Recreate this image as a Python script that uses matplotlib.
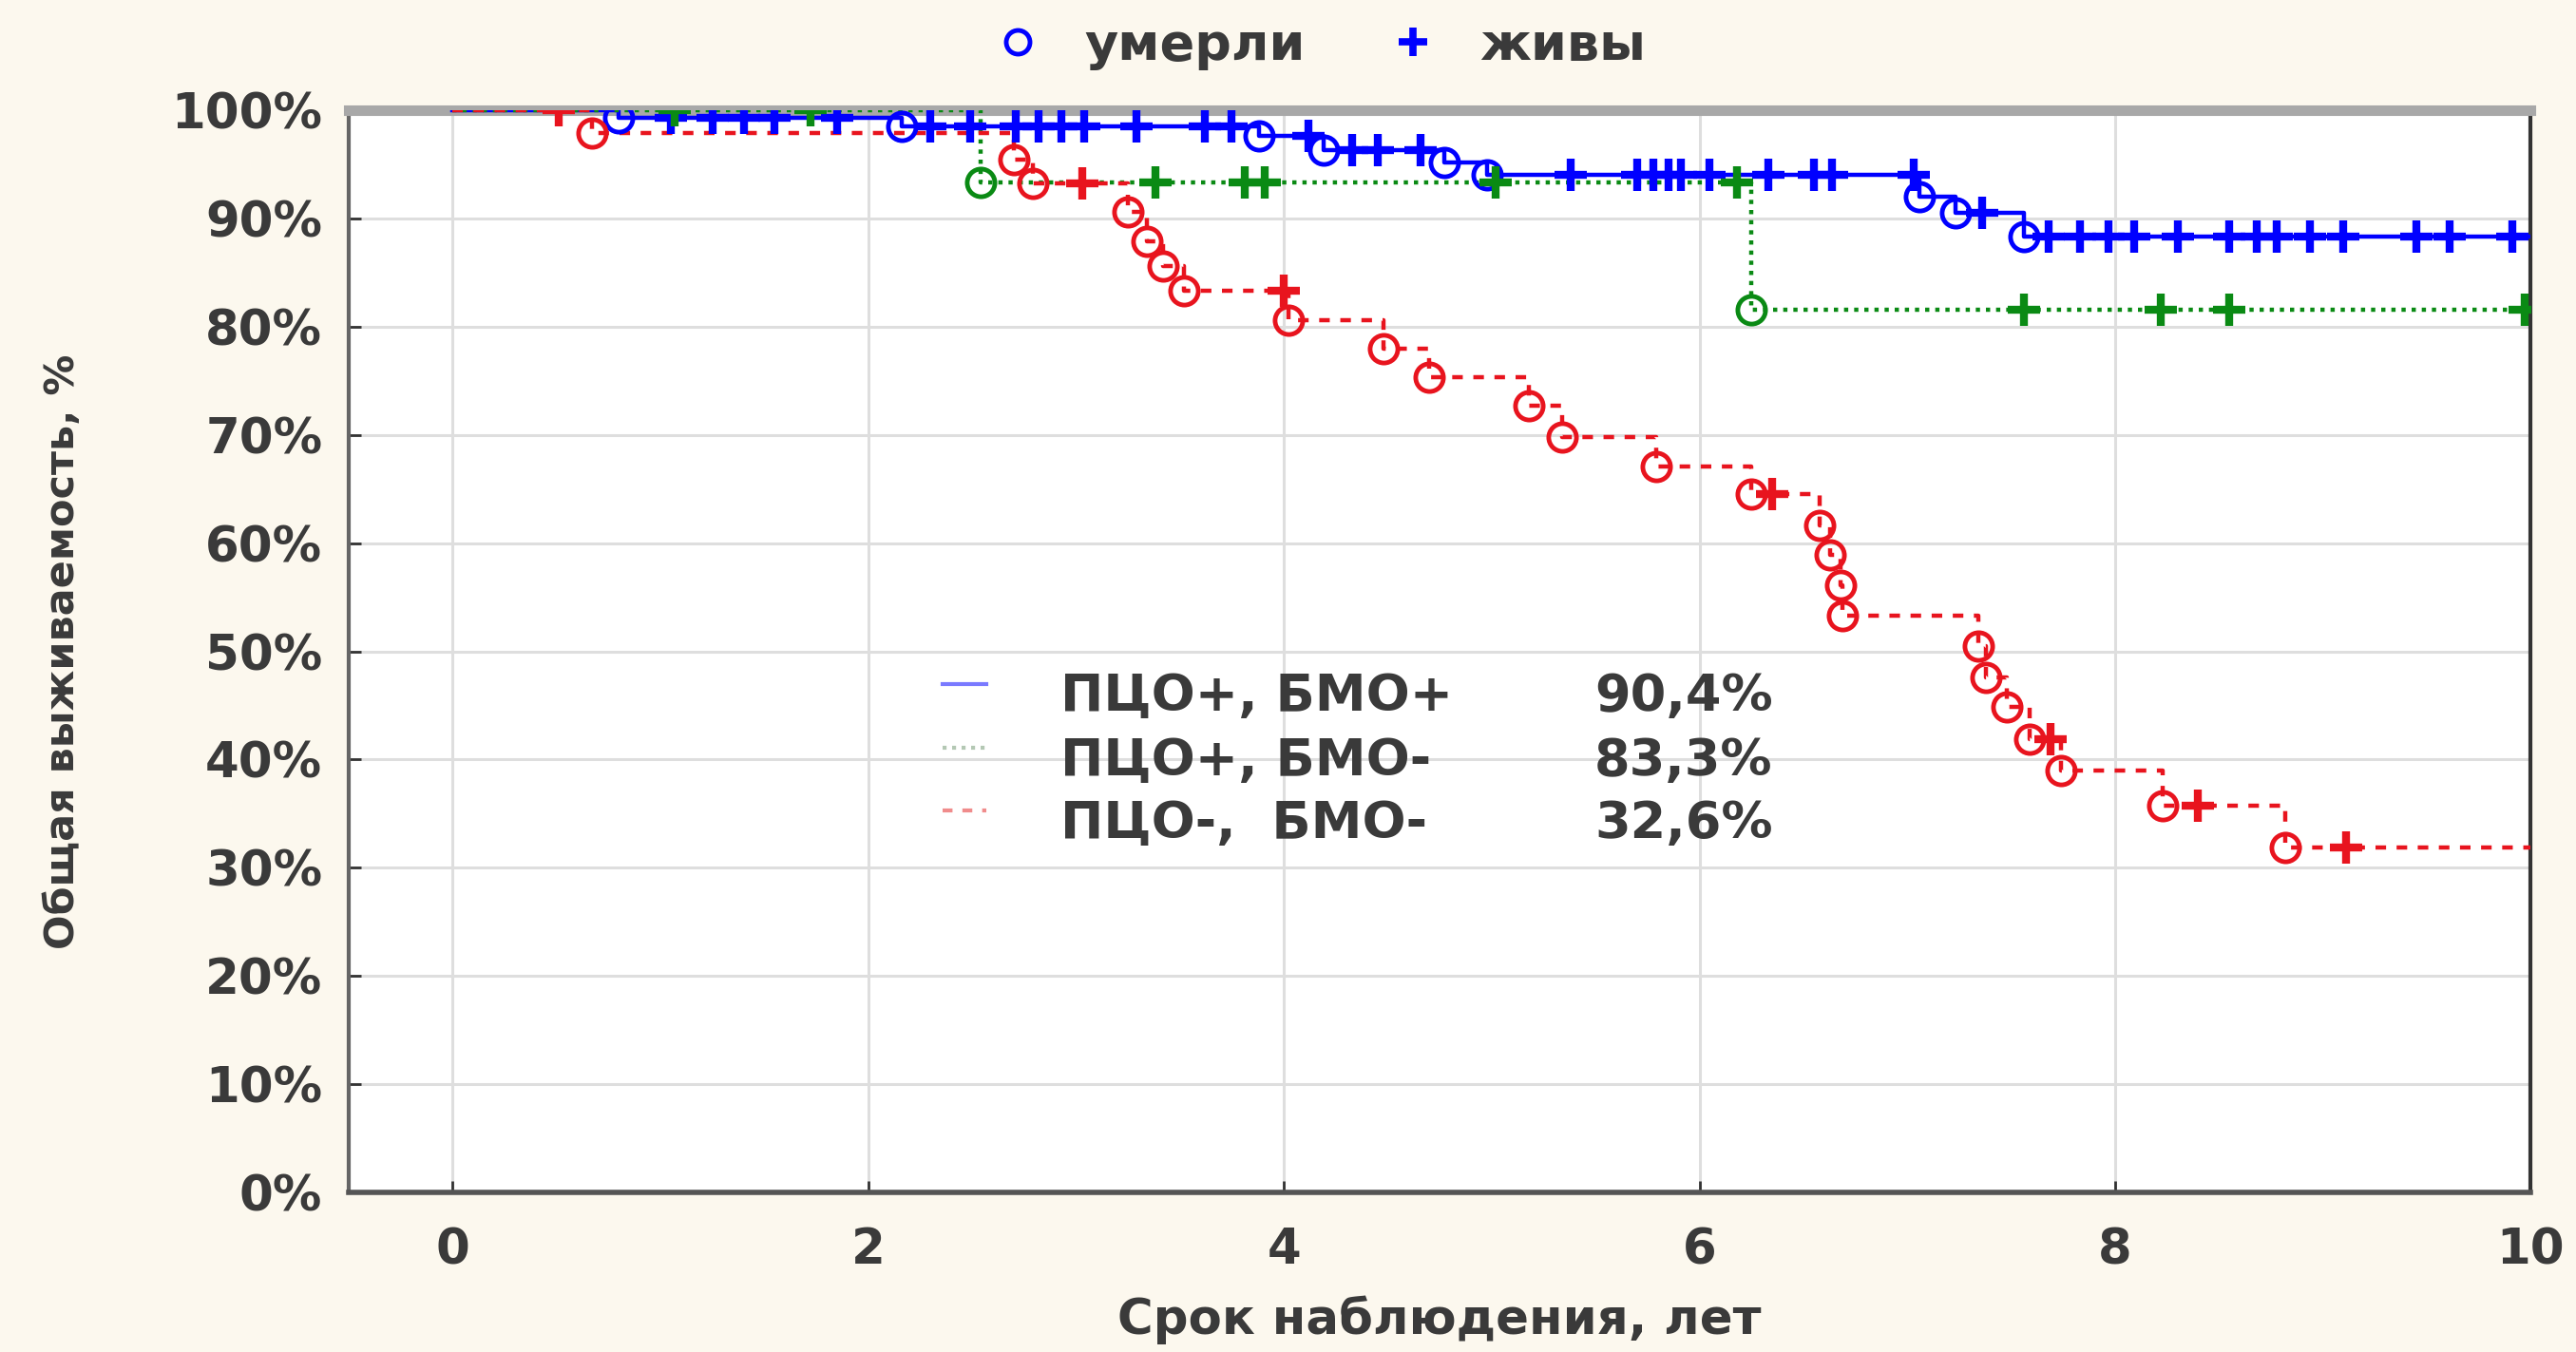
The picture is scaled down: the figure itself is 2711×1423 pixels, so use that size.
import numpy as np
import matplotlib
matplotlib.use("Agg")
import matplotlib.pyplot as plt
from matplotlib.lines import Line2D

plt.rcParams["font.family"] = ["DejaVu Sans"]
plt.rcParams["font.weight"] = "bold"
plt.rcParams["axes.labelweight"] = "bold"

# Kaplan-Meier curves: death times (years), survival after each death (%),
# and censored times (patients alive)
blue_death_t = [0.80, 2.16, 3.88, 4.19, 4.77, 4.98, 7.06, 7.23, 7.56]
blue_death_s = [99.3, 98.5, 97.6, 96.3, 95.2, 94.0, 92.0, 90.5, 88.3]
blue_cens_t = [1.05, 1.25, 1.40, 1.55, 1.85, 2.30, 2.49, 2.71, 2.82, 2.93, 3.04, 3.29,
               3.62, 3.75, 4.12, 4.33, 4.45, 4.66, 5.38, 5.70, 5.78, 5.85, 5.91, 6.05,
               6.33, 6.55, 6.64, 7.03, 7.36, 7.68, 7.83, 7.97, 8.09, 8.30, 8.55, 8.68,
               8.78, 8.94, 9.10, 9.45, 9.61, 9.91]

green_death_t = [2.54, 6.25]
green_death_s = [93.3, 81.6]
green_cens_t = [1.07, 1.72, 3.38, 3.81, 3.91, 5.02, 6.18, 7.56, 8.22, 8.55, 9.97]

red_death_t = [0.67, 2.70, 2.79, 3.25, 3.34, 3.42, 3.52, 4.02, 4.48, 4.70, 5.18, 5.34,
               5.79, 6.25, 6.58, 6.63, 6.68, 6.69, 7.34, 7.38, 7.48, 7.59, 7.74, 8.23, 8.82]
red_death_s = [97.9, 95.4, 93.2, 90.6, 87.9, 85.6, 83.3, 80.6, 78.0, 75.3, 72.7, 69.8,
               67.1, 64.5, 61.6, 58.9, 56.1, 53.3, 50.5, 47.6, 44.9, 41.9, 39.0, 35.7, 31.9]
red_cens_t = [0.51, 3.03, 4.00, 6.35, 7.69, 8.40, 9.11]

groups = ["ПЦО+, БМО+", "ПЦО+, БМО-", "ПЦО-,  БМО-"]
final_pct = ["90,4%", "83,3%", "32,6%"]
end_time = 10.0

x_ticks = [0, 2, 4, 6, 8, 10]
y_ticks = list(range(0, 101, 10))

text_col = "#3a3a3a"


def surv_at(t, dt, ds):
    idx = np.searchsorted(dt, t, side="left")
    ds = np.asarray(ds)
    return np.where(idx == 0, 100.0, ds[np.maximum(idx - 1, 0)])


fig = plt.figure(figsize=(27.11, 14.23), dpi=100, facecolor="#fcf8ee")
ax = fig.add_axes([0.1354, 0.118, 0.847, 0.8005])
ax.set_facecolor("white")

curves = [
    (blue_death_t, blue_death_s, blue_cens_t, "#0000ff", "-", "#7a7aff"),
    (green_death_t, green_death_s, green_cens_t, "#0a8a14", (0, (1, 1.4)), "#b4c8b4"),
    (red_death_t, red_death_s, red_cens_t, "#e8141e", (0, (2.5, 2.5)), "#f08c8c"),
]

for dt, ds, ct, col, ls, _ in curves:
    xs = [0.0] + list(dt) + [end_time]
    ys = [100.0] + list(ds) + [ds[-1]]
    ax.plot(xs, ys, drawstyle="steps-post", color=col, lw=3.2, ls=ls, zorder=3)
    ax.plot(dt, ds, "o", mfc="none", mec=col, ms=21, mew=3.5, zorder=4)
    ax.plot(ct, surv_at(ct, dt, ds), "+", color=col, ms=25, mew=6, zorder=5)

ax.set_xlim(-0.5, 10)
ax.set_ylim(0, 100)
ax.set_xticks(x_ticks)
ax.set_yticks(y_ticks)
ax.set_yticklabels([f"{v}%" for v in y_ticks])
ax.grid(True, color="#dedede", lw=2.2, zorder=0)
ax.set_axisbelow(True)
ax.tick_params(direction="in", length=9, width=2, labelsize=37, colors="#333333",
               labelcolor=text_col)
ax.tick_params(axis="x", pad=26)
ax.tick_params(axis="y", pad=20)

ax.spines["top"].set_color("#a8a8a8")
ax.spines["top"].set_linewidth(8)
ax.spines["bottom"].set_color("#555555")
ax.spines["bottom"].set_linewidth(4)
ax.spines["left"].set_color("#666666")
ax.spines["left"].set_linewidth(3)
ax.spines["right"].set_color("#333333")
ax.spines["right"].set_linewidth(3)

ax.set_xlabel("Срок наблюдения, лет", fontsize=37, color=text_col)
ax.xaxis.set_label_coords(0.5, -0.095)
ax.set_ylabel("Общая выживаемость, %", fontsize=31, color=text_col)
ax.yaxis.set_label_coords(-0.122, 0.5)

# legend inside the plot: group, survival at the end
rows_y = [0.458, 0.399, 0.341]
for (dt, ds, ct, col, ls, faint), name, pct, ry in zip(curves, groups, final_pct, rows_y):
    ax.add_line(Line2D([0.272, 0.292], [ry + 0.012, ry + 0.012], transform=ax.transAxes,
                       color=faint, lw=3, ls=ls))
    ax.text(0.326, ry, name, transform=ax.transAxes, fontsize=39, color=text_col,
            va="center", ha="left")
    ax.text(0.571, ry, pct, transform=ax.transAxes, fontsize=39, color=text_col,
            va="center", ha="left")

# top legend with marker meaning
handles = [
    Line2D([], [], ls="none", marker="o", mfc="none", mec="#0000ff", ms=18, mew=3.5),
    Line2D([], [], ls="none", marker="+", color="#0000ff", ms=22, mew=5.5),
]
fig.legend(handles, ["умерли", "живы"], loc="center", bbox_to_anchor=(0.507, 0.966),
           ncol=2, frameon=False, fontsize=39, handletextpad=0.3, columnspacing=1.1,
           labelcolor=text_col)

fig.savefig("out.png", dpi=100, facecolor=fig.get_facecolor())
